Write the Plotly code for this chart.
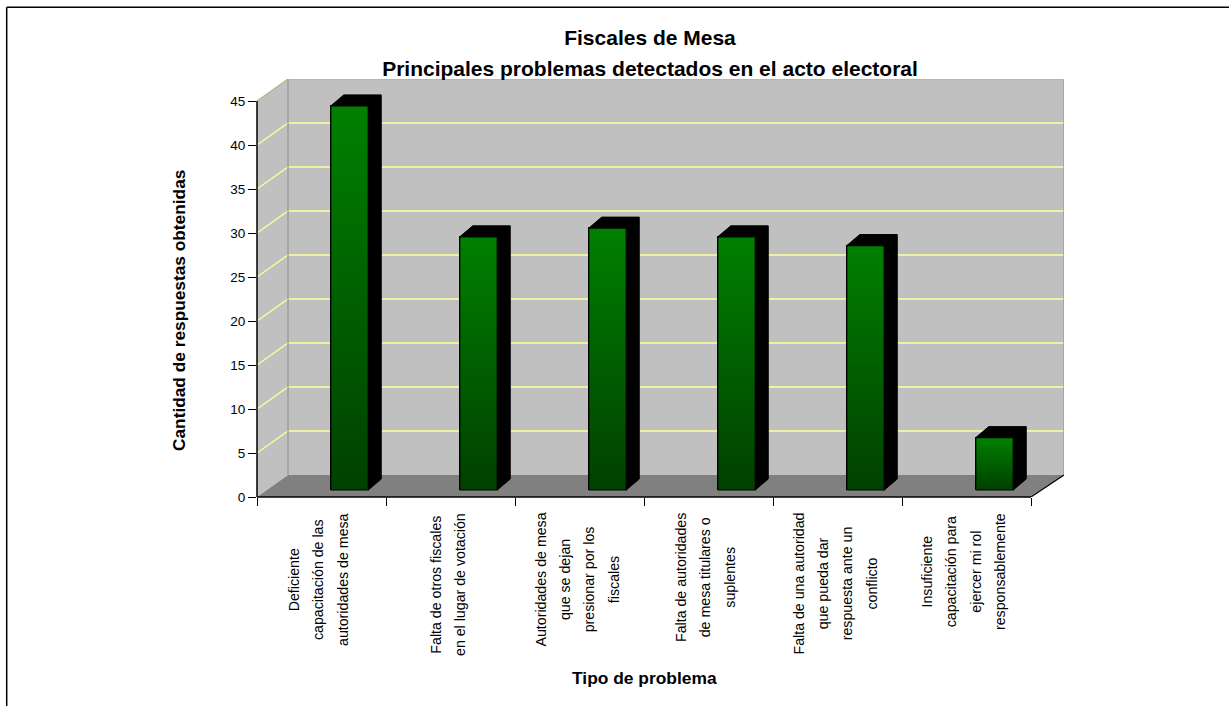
import plotly.graph_objects as go

title_lines = ["Fiscales de Mesa", "Principales problemas detectados en el acto electoral"]
x_title = "Tipo de problema"
y_title = "Cantidad de respuestas obtenidas"
categories = [
    ["Deficiente", "capacitación de las", "autoridades de mesa"],
    ["Falta de otros fiscales", "en el lugar de votación"],
    ["Autoridades de mesa", "que se dejan", "presionar por los", "fiscales"],
    ["Falta de autoridades", "de mesa titulares o", "suplentes"],
    ["Falta de una autoridad", "que pueda dar", "respuesta ante un", "conflicto"],
    ["Insuficiente", "capacitación para", "ejercer mi rol", "responsablemente"],
]
values = [44, 29, 30, 29, 28, 6]
y_ticks = [0, 5, 10, 15, 20, 25, 30, 35, 40, 45]

FONT = "Liberation Sans"
W, H = 1229, 706
L, R, T, B = 257, 1064, 79, 497      # plot area in pixels
AX_R = 1031                          # end of the front edge of the floor
PX = 129.0                           # pixels per category
PY = 8.8                             # pixels per unit
DX = 31 / PX                         # wall depth, in data units
DY = 22 / PY
BDX = 13 / PX                        # bar depth
BDY = 11 / PY
BAR_W = 37.5 / PX
BAR_OFF = 28 / PX
BAR_BASE = 7 / PY
BAR_SCALE = 0.992

x0 = -0.5
xw = (AX_R - L) / PX
xend = (R - L) / PX
n = len(values)
xs = list(range(n))


def path(points):
    return "M " + " L ".join(f"{a} {b}" for a, b in points) + " Z"


def open_path(points):
    return "M " + " L ".join(f"{a} {b}" for a, b in points)


def px(x):
    return (x - L) / (R - L)


def py(y):
    return (B - y) / (B - T)


shapes = []
y_top = y_ticks[-1]
xb = x0 + DX
xf = x0 + xend
# back wall, side wall, floor
shapes.append(dict(type="path", layer="below", xref="x", yref="y", line=dict(width=0), fillcolor="#C0C0C0",
                   path=path([(xb, DY), (xf, DY), (xf, y_top + DY), (xb, y_top + DY)])))
shapes.append(dict(type="path", layer="below", xref="x", yref="y", line=dict(width=0), fillcolor="#C0C0C0",
                   path=path([(x0, 0), (xb, DY), (xb, y_top + DY), (x0, y_top)])))
shapes.append(dict(type="path", layer="below", xref="x", yref="y", line=dict(width=0), fillcolor="#808080",
                   path=path([(x0, 0), (xb, DY), (xf, DY), (x0 + xw, 0)])))
# gridlines
for t in y_ticks[1:]:
    col = "#B8B88C" if t == y_top else "#FFFF99"
    shapes.append(dict(type="path", layer="below", xref="x", yref="y", line=dict(color=col, width=1.3),
                       path=open_path([(x0, t), (xb, t + DY), (xf, t + DY)])))
# wall edges
for xe in (xb, xf):
    shapes.append(dict(type="path", layer="below", xref="x", yref="y", line=dict(color="#999999", width=1.3),
                       path=open_path([(xe, DY), (xe, y_top + DY)])))
# floor edge on the right
shapes.append(dict(type="path", layer="above", xref="x", yref="y", line=dict(color="#000000", width=1.2),
                   path=open_path([(x0 + xw, 0), (xf, DY)])))
# axis lines
shapes.append(dict(type="line", xref="paper", yref="paper", x0=px(L), x1=px(AX_R), y0=py(B), y1=py(B),
                   line=dict(color="#000000", width=1.5)))
shapes.append(dict(type="line", xref="paper", yref="paper", x0=px(L), x1=px(L), y0=py(B), y1=py(101),
                   line=dict(color="#000000", width=1.5)))
# chart frame: left and top only
shapes.append(dict(type="line", xref="paper", yref="paper", x0=px(6.7), x1=px(W), y0=py(7.3), y1=py(7.3),
                   line=dict(color="#000000", width=1.5)))
shapes.append(dict(type="line", xref="paper", yref="paper", x0=px(6.7), x1=px(6.7), y0=py(7.3), y1=py(H),
                   line=dict(color="#000000", width=1.5)))

fig = go.Figure()

heights = [v * BAR_SCALE for v in values]
fig.add_trace(go.Bar(
    x=xs, y=heights, base=BAR_BASE, width=BAR_W, offset=BAR_OFF - BAR_W / 2,
    marker=dict(color="#006000", line=dict(color="#000000", width=1)),
    customdata=values, hovertemplate="%{customdata}<extra></extra>", showlegend=False,
))

for x, h in zip(xs, heights):
    xl = x + BAR_OFF - BAR_W / 2
    xr = xl + BAR_W
    top = BAR_BASE + h
    base = BAR_BASE
    # black top and side of the block
    sx = [xl, xl + BDX, xr + BDX, xr + BDX, xr, xr, xl]
    sy = [top, top + BDY, top + BDY, base + BDY, base, top, top]
    fig.add_trace(go.Scatter(x=sx, y=sy, mode="lines", fill="toself", fillcolor="#000000",
                             line=dict(color="#000000", width=1), hoverinfo="skip", showlegend=False))
    # gradient front face
    fx = [xl, xr, xr, xl, xl]
    fy = [base, base, top, top, base]
    fig.add_trace(go.Scatter(x=fx, y=fy, mode="lines", fill="toself",
                             fillgradient=dict(type="vertical", colorscale=[[0, "#004000"], [1, "#008000"]]),
                             line=dict(color="#000000", width=1.2), hoverinfo="skip", showlegend=False))

annotations = []
for x, lines in zip(xs, categories):
    # a blank line between rows plus a small base font gives the wide row pitch
    text = "<br><br>".join(f'<span style="font-size:14.2px">{ln}</span>' for ln in lines)
    annotations.append(dict(x=x, xref="x", xshift=-3, y=py(511), yref="paper", yanchor="top", xanchor="center",
                            text=text, textangle=-90, showarrow=False, align="center",
                            font=dict(family=FONT, size=9.42, color="#000000")))
annotations.append(dict(x=px(644), xref="paper", y=py(678), yref="paper", yanchor="middle", xanchor="center",
                        text=f"<b>{x_title}</b>", showarrow=False,
                        font=dict(family=FONT, size=17.4, color="#000000")))
annotations.append(dict(x=px(179), xref="paper", y=py(311), yref="paper", yanchor="middle", xanchor="center",
                        text=f"<b>{y_title}</b>", textangle=-90, showarrow=False,
                        font=dict(family=FONT, size=17.3, color="#000000")))

title_text = f'<span style="font-size:21px"><b>{title_lines[0]}</b></span><br><br>' \
             f'<span style="font-size:21px"><b>{title_lines[1]}</b></span>'

fig.update_layout(
    width=W, height=H, autosize=False,
    margin=dict(l=L, r=W - R, t=T, b=H - B, pad=0),
    paper_bgcolor="#FFFFFF", plot_bgcolor="#FFFFFF",
    showlegend=False, bargap=0,
    title=dict(text=title_text, x=650 / W, xanchor="center", xref="container",
               y=1 - 45 / H, yanchor="top", yref="container",
               font=dict(family=FONT, size=11.92, color="#000000")),
    xaxis=dict(range=[x0, x0 + xend], tickmode="array",
               tickvals=[x0 + i for i in range(n + 1)], showticklabels=False,
               ticks="outside", ticklen=8, tickwidth=1.2, tickcolor="#000000",
               showgrid=False, zeroline=False, showline=False),
    yaxis=dict(range=[0, (B - T) / PY], tickmode="array", tickvals=y_ticks,
               ticks="outside", ticklen=8, tickwidth=1.2, tickcolor="#000000",
               tickfont=dict(family=FONT, size=13.5, color="#000000"),
               showgrid=False, zeroline=False, showline=False),
    shapes=shapes, annotations=annotations,
)

fig.write_html("out.html", config=dict(displayModeBar=False),
               post_script="document.body.style.margin='0';document.body.style.overflow='hidden';")
